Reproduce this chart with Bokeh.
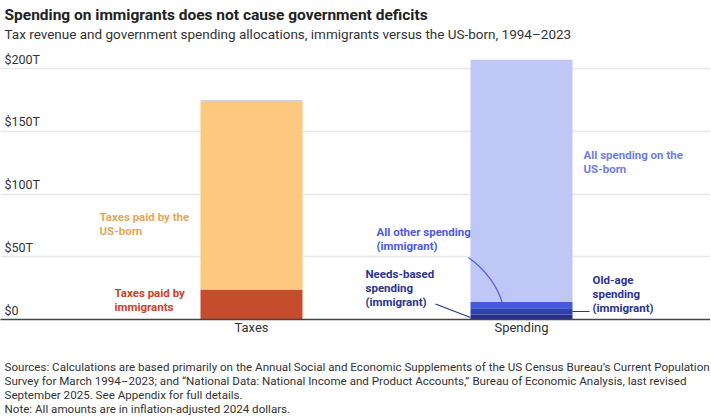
from bokeh.plotting import figure
from bokeh.layouts import column
from bokeh.models import ColumnDataSource, Title, FixedTicker, Range1d
from bokeh.core.properties import value
from bokeh.embed import file_html
from bokeh.resources import INLINE

# ---- data (trillions of 2024 dollars, 1994-2023) ----
categories = ["Taxes", "Spending"]
tax_immigrant = [24]
tax_usborn = [150]
tax_top_sliver = [0.6]
spend_needs_imm = [4]
spend_oldage_imm = [5]
spend_other_imm = [5]
spend_usborn = [193]
yticks = [0, 50, 100, 150, 200]
ytick_labels = ["$0", "$50T", "$100T", "$150T", "$200T"]

title_text = "Spending on immigrants does not cause government deficits"
subtitle_text = "Tax revenue and government spending allocations, immigrants versus the US-born, 1994\u20132023"
footer_lines = [
    "Sources: Calculations are based primarily on the Annual Social and Economic Supplements of the US Census Bureau\u2019s Current Population",
    "Survey for March 1994\u20132023; and \u201cNational Data: National Income and Product Accounts,\u201d Bureau of Economic Analysis, last revised",
    "September 2025. See Appendix for full details.",
    "Note: All amounts are in inflation-adjusted 2024 dollars.",
]

FONT = "Roboto"
W = 710
TOP, BOTTOM = 41, 22
PX_PER_X = 270.0
X0_SCREEN = 251.0          # screen x of first category
BASE_SCREEN = 319.0        # screen y of zero
PX_PER_T = 1.255
LEFT_PAD = 4

frame_h = BASE_SCREEN - TOP
H_MAIN = int(TOP + frame_h + BOTTOM)
H_FOOT = 416 - H_MAIN

x_start = (0 - X0_SCREEN) / PX_PER_X
x_end = x_start + W / PX_PER_X
y_end = frame_h / PX_PER_T

def dx(sx):
    return (sx - X0_SCREEN) / PX_PER_X

def dy(sy):
    return (BASE_SCREEN - sy) / PX_PER_T

p = figure(width=W, height=H_MAIN, output_backend="svg", toolbar_location=None,
           x_range=Range1d(x_start, x_end), y_range=Range1d(0, y_end),
           min_border_left=0, min_border_right=0, min_border_top=TOP,
           min_border_bottom=BOTTOM, title=None)
p.outline_line_color = None
p.background_fill_color = "white"
p.border_fill_color = "white"

# axes
p.yaxis.visible = False
p.xaxis.ticker = FixedTicker(ticks=list(range(len(categories))))
p.xaxis.major_label_overrides = {i: c for i, c in enumerate(categories)}
p.xaxis.major_tick_line_color = None
p.xaxis.major_tick_out = 0
p.xaxis.major_tick_in = 0
p.xaxis.minor_tick_line_color = None
p.xaxis.minor_tick_out = 0
p.xaxis.axis_line_color = "#444444"
p.xaxis.axis_line_width = 1.5
p.xaxis.major_label_text_font = FONT
p.xaxis.major_label_text_font_size = "13px"
p.xaxis.major_label_text_color = "#333333"
p.xaxis.major_label_standoff = 0
p.xgrid.visible = False
p.ygrid.ticker = FixedTicker(ticks=yticks)
p.ygrid.grid_line_color = "#e8e8e8"
p.ygrid.grid_line_width = 1.5

bw = 102 / PX_PER_X
xt, xs = [0], [1]

# taxes stack
b0 = [0]
b1 = [tax_immigrant[0]]
b2 = [tax_immigrant[0] + tax_usborn[0]]
p.vbar(x=xt, bottom=b0, top=b1, width=bw, color="#c54d2d", line_color=None)
p.vbar(x=xt, bottom=b1, top=b2, width=bw, color="#fec97f", line_color=None)
p.vbar(x=xt, bottom=b2, top=[b2[0] + tax_top_sliver[0]], width=bw, color="#a2a5d6", line_color=None)

# spending stack
s1 = [spend_needs_imm[0]]
s2 = [s1[0] + spend_oldage_imm[0]]
s3 = [s2[0] + spend_other_imm[0]]
s4 = [s3[0] + spend_usborn[0]]
p.vbar(x=xs, bottom=[0], top=s1, width=bw, color="#26318a", line_color=None)
p.vbar(x=xs, bottom=s1, top=s2, width=bw, color="#3040ad", line_color=None)
p.vbar(x=xs, bottom=s2, top=s3, width=bw, color="#4659dc", line_color=None)
p.vbar(x=xs, bottom=s3, top=s4, width=bw, color="#bfc7f6", line_color=None)

# y tick labels inside plot above grid lines
ysrc = ColumnDataSource(dict(x=[x_start] * len(yticks), y=yticks, t=ytick_labels))
p.text(x="x", y="y", text="t", source=ysrc, text_font=value(FONT),
       text_font_size="12.5px", text_color="#333333", text_baseline="bottom",
       text_align="left", y_offset=-2, x_offset=LEFT_PAD)

# series labels
def add_label(sx, sy_first, lines, color, lh=14):
    ys = [dy(sy_first + i * lh) for i in range(len(lines))]
    src = ColumnDataSource(dict(x=[dx(sx)] * len(lines), y=ys, t=lines))
    p.text(x="x", y="y", text="t", source=src, text_font=value(FONT),
           text_font_style="bold", text_font_size="11.5px", text_color=color,
           text_baseline="middle", text_align="left")

add_label(99, 216, ["Taxes paid by the", "US-born"], "#e3a857")
add_label(114, 292, ["Taxes paid by", "immigrants"], "#c8432a")
add_label(583, 154, ["All spending on the", "US-born"], "#6f7ee0")
add_label(376, 231, ["All other spending", "(immigrant)"], "#4a5ce0")
add_label(365, 273, ["Needs-based", "spending", "(immigrant)"], "#2b3590")
add_label(592, 279, ["Old-age", "spending", "(immigrant)"], "#2b3590")

# leader lines
p.quadratic(x0=[dx(468)], y0=[dy(257)], x1=[dx(502)], y1=[dy(303)],
            cx=[dx(494)], cy=[dy(276)], line_color="#4a5ce0", line_width=1.2)
p.segment(x0=[dx(435)], y0=[dy(303.5)], x1=[dx(470)], y1=[dy(317)],
          line_color="#2b3590", line_width=1.2)
p.segment(x0=[dx(572)], y0=[dy(311)], x1=[dx(589)], y1=[dy(311)],
          line_color="#2b3590", line_width=1.2)

# titles above (first added is closest to the frame)
p.add_layout(Title(text=subtitle_text, text_font=FONT, text_font_size="13.5px",
                   text_font_style="normal", text_color="#333333", standoff=0,
                   text_line_height=1.3, offset=LEFT_PAD), "above")
p.add_layout(Title(text=title_text, text_font=FONT, text_font_size="15.5px",
                   text_font_style="bold", text_color="#222222", standoff=0,
                   offset=LEFT_PAD), "above")

# footer figure (y measured downward in pixels from its top)
f = figure(width=W, height=H_FOOT, output_backend="svg", toolbar_location=None,
           x_range=Range1d(0, W), y_range=Range1d(H_FOOT, 0),
           min_border=0, title=None)
f.axis.visible = False
f.grid.visible = False
f.outline_line_color = None
foot_y = [366 - H_MAIN + 14 * i for i in range(len(footer_lines))]
fsrc = ColumnDataSource(dict(x=[LEFT_PAD] * len(footer_lines), y=foot_y, t=footer_lines))
f.text(x="x", y="y", text="t", source=fsrc, text_font=value(FONT),
       text_font_size="11.6px", text_color="#333333", text_baseline="middle",
       text_align="left")

layout = column(p, f, spacing=0)
open("out.html", "w").write(file_html(layout, INLINE))
